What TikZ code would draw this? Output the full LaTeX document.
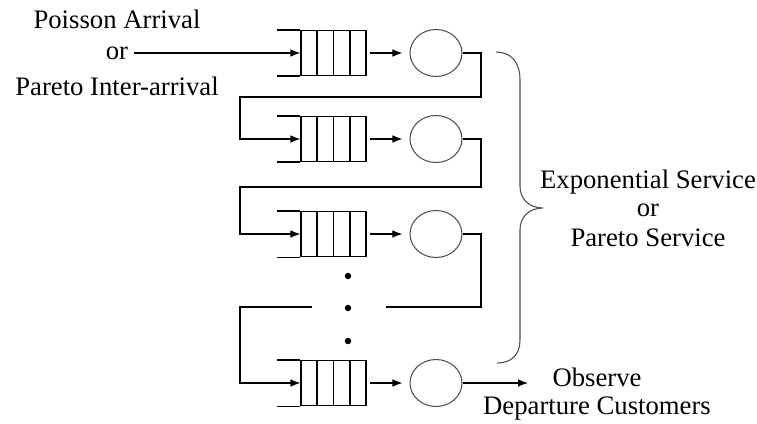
\documentclass[tikz,border=0pt]{standalone}
\usepackage{fontspec}
\setmainfont{Liberation Serif}
\usetikzlibrary{shapes.geometric,calc,arrows.meta}

\begin{document}
\begin{tikzpicture}[x=0.02cm,y=-0.02cm,
    every node/.style={font=\fontsize{15.2}{18}\selectfont},
    queue/.style={draw,line width=0.6pt,rectangle,minimum width=1.3cm,
      minimum height=0.9cm,inner sep=0pt},
    server/.style={draw,line width=0.6pt,ellipse,minimum width=1.04cm,
      minimum height=0.94cm,inner sep=0pt,gray!60!black},
    move/.style={-{Latex[length=0.2cm,width=0.15cm]},line width=0.6pt,draw},
    link/.style={line width=0.6pt,draw}]
    \useasboundingbox (0,0) rectangle (757,423);

    % queues and servers, top to bottom
    \node[queue] (q1) at (333.5,53) {};
    \node[queue] (q2) at (333.5,139) {};
    \node[queue] (q3) at (333.5,234) {};
    \node[queue] (q4) at (333.5,383) {};
    \node[server] (s1) at (436,53) {};
    \node[server] (s2) at (436,139) {};
    \node[server] (s3) at (436,234) {};
    \node[server] (s4) at (436,383) {};

    % slots and open ends of the queues
    \foreach \q/\s in {q1/s1,q2/s2,q3/s3,q4/s4} {
      \foreach \k in {1,2,3}
        \draw[link] ($(\q.north west)!\k/4!(\q.north east)$) -- ($(\q.south west)!\k/4!(\q.south east)$);
      \draw[link] (\q.north west) -- ++(-23,0);
      \draw[link] (\q.south west) -- ++(-23,0);
      \path[move,shorten <=0.06cm,shorten >=0.14cm] (\q.east) -- (\s.west);
    }

    % arrivals
    \node (arr1) at (117,19) {Poisson Arrival};
    \node (arrOr) at (117,53) {or};
    \node (arr2) at (117,86) {Pareto Inter-arrival};
    \path[move] (arrOr) -- (q1.west);

    % feedback from one server to the next queue
    \coordinate (t1) at (481,97);  \coordinate (b1) at (240,97);
    \coordinate (t2) at (481,187); \coordinate (b2) at (240,187);
    \coordinate (t3) at (481,307); \coordinate (b3) at (240,307);
    \coordinate (g3r) at (386,307); \coordinate (g3l) at (312,307);
    \path[move] (s1.east) -| (t1) -- (b1) |- (q2.west);
    \path[move] (s2.east) -| (t2) -- (b2) |- (q3.west);
    \path[link] (s3.east) -| (t3) -- (g3r);
    \path[move] (g3l) -- (b3) |- (q4.west);

    \node[circle,fill,inner sep=1.3pt] (d1) at (348,276) {};
    \node[circle,fill,inner sep=1.3pt] (d2) at (348,308) {};
    \node[circle,fill,inner sep=1.3pt] (d3) at (348,341) {};

    % departures
    \coordinate (out) at (528,383);
    \path[move] (s4.east) -- (out);
    \node (obs1) at (597,377) {Observe};
    \node (obs2) at (597,408) {Departure Customers};

    % brace over the servers
    \draw[line width=0.6pt,gray!60!black] (496,52) .. controls (511,52) and (520,62) .. (520,80)
      -- (520,186) .. controls (520,200) and (530,208) .. (543,208)
      .. controls (530,208) and (520,216) .. (520,230)
      -- (520,340) .. controls (520,355) and (511,363) .. (497,363);
    \node (srv1) at (648,182) {Exponential Service};
    \node (srvOr) at (648,210) {or};
    \node (srv2) at (648,238) {Pareto Service};

  \end{tikzpicture}
\end{document}
